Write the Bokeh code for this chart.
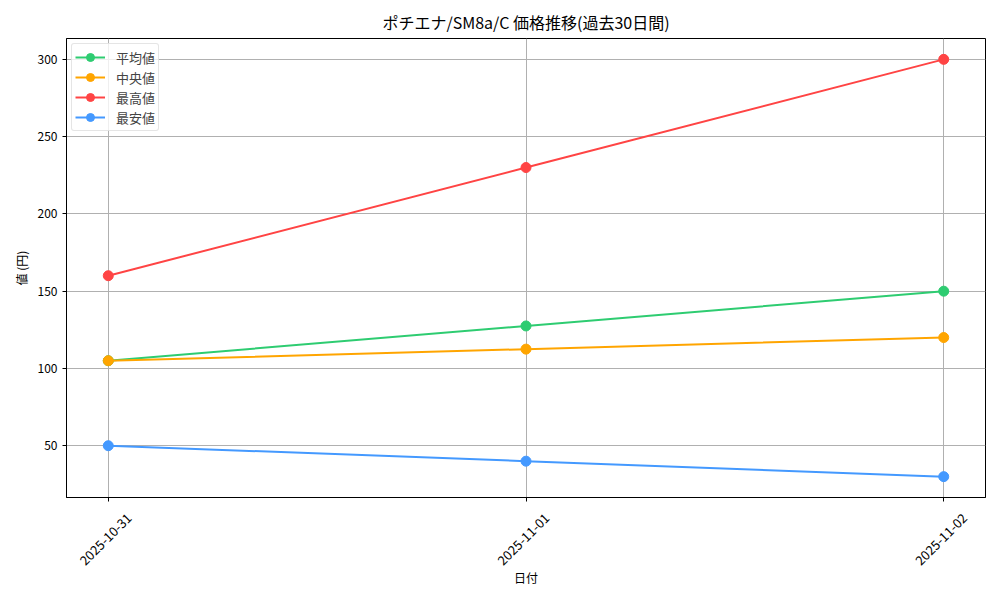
from bokeh.plotting import figure
from bokeh.models import Range1d, FixedTicker, Legend, LegendItem, LinearAxis
from bokeh.embed import file_html
from bokeh.resources import INLINE
import math

dates = ["2025-10-31", "2025-11-01", "2025-11-02"]
avg_vals = [105, 127.5, 150]
med_vals = [105, 112.5, 120]
max_vals = [160, 230, 300]
min_vals = [50, 40, 30]
y_ticks = [50, 100, 150, 200, 250, 300]

series = [
    ("平均値", avg_vals, "#2ecc71"),
    ("中央値", med_vals, "#ffa500"),
    ("最高値", max_vals, "#ff4444"),
    ("最安値", min_vals, "#4499ff"),
]

FONT = "Noto Sans CJK JP"
xs = list(range(len(dates)))
y_lo, y_hi = 16.5, 313.5
label_shift = 0.05  # centres rotated labels under their ticks

p = figure(width=1000, height=600, output_backend="svg", toolbar_location=None,
           x_range=Range1d(-0.1, 2.1), y_range=Range1d(y_lo, y_hi),
           min_border_left=66, min_border_right=15, min_border_top=38, min_border_bottom=103,
           title="ポチエナ/SM8a/C 価格推移(過去30日間)")

p.title.align = "center"
p.title.text_font = FONT
p.title.text_font_size = "16px"
p.title.text_font_style = "normal"
p.title.text_color = "black"

items = []
for name, vals, color in series:
    r1 = p.line(xs, vals, line_color=color, line_width=2)
    r2 = p.scatter(xs, vals, size=10, fill_color=color, line_color=color)
    items.append(LegendItem(label=name, renderers=[r1, r2]))

legend = Legend(items=items, location="top_left")
legend.label_text_font = FONT
legend.label_text_font_size = "13px"
legend.border_line_color = "#cccccc"
legend.border_line_width = 1
legend.border_radius = 3
legend.background_fill_alpha = 0.8
legend.spacing = 0
legend.padding = 3
legend.margin = 5
legend.glyph_width = 30
legend.label_height = 20
legend.glyph_height = 20
legend.label_standoff = 11
p.add_layout(legend)

# main x axis: ticks only
p.xaxis.ticker = FixedTicker(ticks=xs)
p.xaxis.major_label_overrides = {i: "" for i in xs}
p.xaxis.major_label_standoff = 0
p.xaxis.major_label_text_font_size = "1px"
p.yaxis.ticker = FixedTicker(ticks=y_ticks)

# label axis: rotated date labels centred under the ticks
label_pos = [x + label_shift for x in xs]
lab_axis = LinearAxis(ticker=FixedTicker(ticks=label_pos),
                      major_label_overrides={lp: d for lp, d in zip(label_pos, dates)},
                      major_label_orientation=math.pi / 4,
                      major_tick_line_color=None, minor_tick_line_color=None,
                      axis_line_color=None, major_label_standoff=8,
                      major_label_text_font=FONT, major_label_text_font_size="13px",
                      major_label_text_color="black",
                      axis_label="日付", axis_label_text_font=FONT,
                      axis_label_text_font_size="12px", axis_label_text_font_style="normal",
                      axis_label_text_color="black", axis_label_standoff=-4)
p.add_layout(lab_axis, "below")

for ax in (p.xaxis[0], p.yaxis[0]):
    ax.major_label_text_font = FONT
    ax.major_label_text_color = "black"
    ax.axis_label_text_font = FONT
    ax.axis_label_text_font_size = "12px"
    ax.axis_label_text_font_style = "normal"
    ax.axis_label_text_color = "black"
    ax.minor_tick_line_color = None
    ax.major_tick_out = 4
    ax.major_tick_in = 0
    ax.major_tick_line_color = "black"
    ax.axis_line_color = "black"

p.yaxis.major_label_text_font_size = "12px"
p.yaxis.axis_label = "値 (円)"

p.xgrid.grid_line_color = "#b0b0b0"
p.ygrid.grid_line_color = "#b0b0b0"
p.xgrid.grid_line_width = 1
p.ygrid.grid_line_width = 1

p.outline_line_color = "black"
p.outline_line_width = 1

open("out.html", "w").write(file_html(p, INLINE))
